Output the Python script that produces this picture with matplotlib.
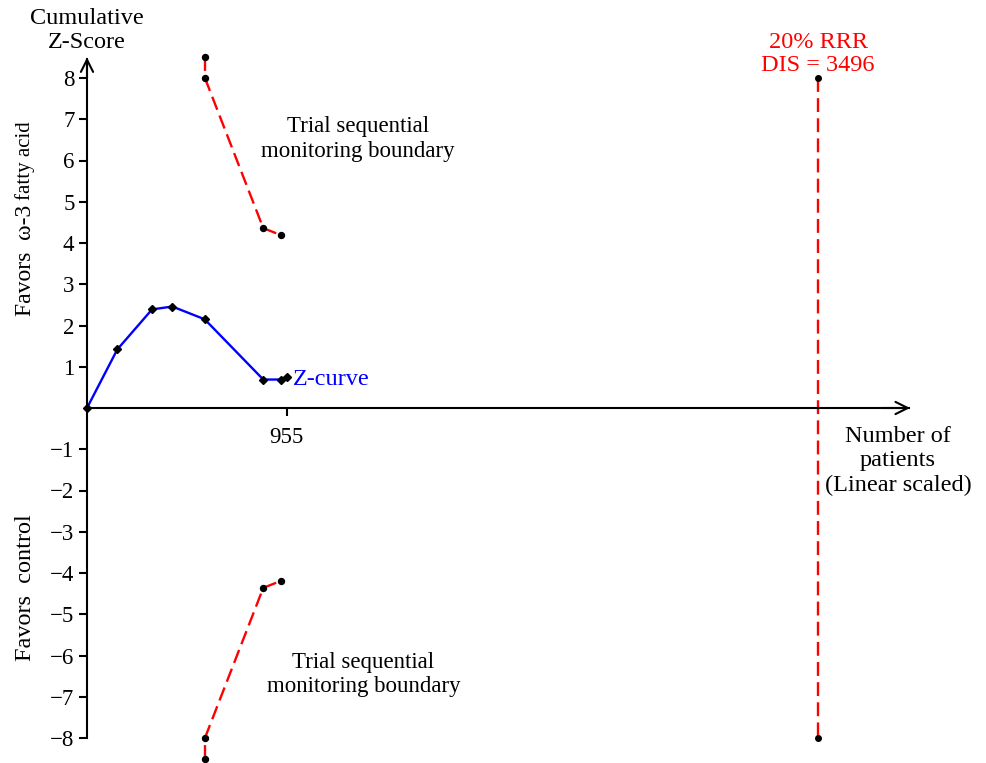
import numpy as np
import matplotlib
matplotlib.use('Agg')
import matplotlib.pyplot as plt

plt.rcParams['font.family'] = ['Liberation Serif', 'DejaVu Serif']
plt.rcParams['lines.scale_dashes'] = False

# Z-curve (cumulative patients, cumulative Z)
z_patients = [0, 145, 311, 408, 563, 843, 928, 955]
z_scores = [0, 1.42, 2.39, 2.46, 2.15, 0.69, 0.69, 0.76]

# monitoring boundaries
bound_patients = [564, 564, 843, 928]
bound_upper = [8.5, 8.0, 4.36, 4.19]
bound_lower = [-8.5, -8.0, -4.36, -4.19]

# required information size
dis = 3496
dis_z = [8, -8]

yticks = [-8, -7, -6, -5, -4, -3, -2, -1, 1, 2, 3, 4, 5, 6, 7, 8]
xticks = [955]

RED = '#ff0000'
BLUE = '#0000ff'

fig = plt.figure(figsize=(9.87, 7.63), dpi=100)
ax = fig.add_axes([0, 0, 1, 1])
ax.patch.set_visible(False)

# pixel mapping: x0 at px 87, 0.2091 px/patient; y0 at px 408, 41.25 px/unit
sx, sy = 0.2091, 41.25
ax.set_xlim(-87 / sx, (987 - 87) / sx)
ax.set_ylim((408 - 763) / sy, 408 / sy)

for s in ['top', 'right']:
    ax.spines[s].set_visible(False)
ax.spines['left'].set_position(('data', 0))
ax.spines['bottom'].set_position(('data', 0))
ax.spines['left'].set_bounds(-8, 8.45)
ax.spines['bottom'].set_bounds(0, 3930)
ax.spines['left'].set_linewidth(1.5)
ax.spines['bottom'].set_linewidth(1.5)

# arrow heads
ax.annotate('', xy=(0, 8.5), xytext=(0, 8.0),
            arrowprops=dict(arrowstyle='->', lw=1.5, mutation_scale=22, shrinkA=0, shrinkB=0))
ax.annotate('', xy=(3936, 0), xytext=(3800, 0),
            arrowprops=dict(arrowstyle='->', lw=1.5, mutation_scale=22, shrinkA=0, shrinkB=0))

ax.set_yticks(yticks)
ax.set_yticklabels(['\u2212%d' % -v if v < 0 else str(v) for v in yticks])
ax.set_xticks(xticks)
ax.tick_params(axis='both', direction='out', length=6, width=1.5, labelsize=16.5, pad=3)
ax.tick_params(axis='x', pad=8)

# boundaries
for yb in (bound_upper, bound_lower):
    for i in range(len(bound_patients) - 1):
        ax.plot(bound_patients[i:i + 2], yb[i:i + 2], color=RED, lw=1.7,
                dashes=(10, 4.5))
    ax.plot(bound_patients, yb, 'o', color='black', ms=4.3, zorder=5)

# DIS line
ax.plot([dis, dis], dis_z, color=RED, lw=1.7, dashes=(10, 4.5))
ax.plot([dis, dis], dis_z, 'o', color='black', ms=4, zorder=5)

# Z-curve
ax.plot(z_patients, z_scores, color=BLUE, lw=1.7, zorder=4)
ax.plot(z_patients, z_scores, 'D', color='black', ms=4.5, zorder=5)

# texts
ax.text(0, 9.16, 'Cumulative\nZ-Score', ha='center', va='center', fontsize=17.5,
        linespacing=1.2)
ax.text(1296, 6.52, 'Trial sequential\nmonitoring boundary', ha='center',
        va='center', fontsize=16.5, linespacing=1.25)
ax.text(1322, -6.46, 'Trial sequential\nmonitoring boundary', ha='center',
        va='center', fontsize=16.5, linespacing=1.22)
ax.text(985, 0.70, 'Z-curve', ha='left', va='center', fontsize=17.5, color=BLUE)
ax.text(dis, 8.58, '20% RRR\nDIS = 3496', ha='center', va='center', fontsize=17.5,
        color=RED, linespacing=1.1)
ax.text(3878, -1.28, 'Number of\npatients\n(Linear scaled)', ha='center',
        va='center', fontsize=17.5, linespacing=1.22)

ax.text(-296, (408 - 260) / sy, 'Favors  \u03c9-3', rotation=90, ha='center',
        va='center', fontsize=17)
ax.text(-296, (408 - 161) / sy, 'fatty acid', rotation=90, ha='center',
        va='center', fontsize=15)
ax.text(-296, (408 - 588) / sy, 'Favors  control', rotation=90, ha='center',
        va='center', fontsize=17.5)

fig.savefig('out.png', dpi=100)
